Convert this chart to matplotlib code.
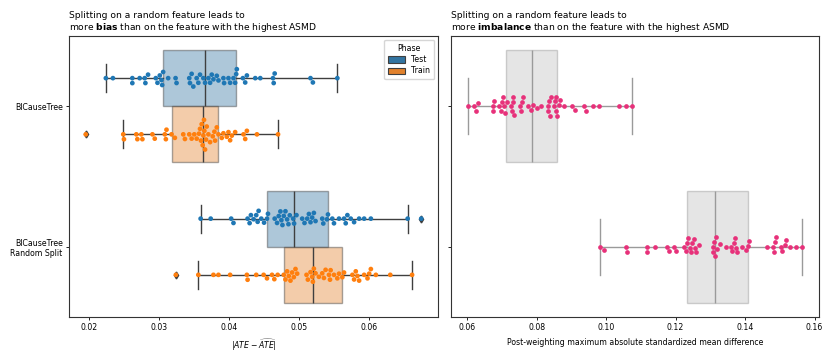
import numpy as np
import pandas as pd
import matplotlib
matplotlib.use('Agg')
import matplotlib.pyplot as plt
import seaborn as sns
from matplotlib.patches import Patch
from matplotlib.colors import to_rgba

methods = ['BICauseTree', 'BICauseTree\nRandom Split']
phases = ['Test', 'Train']

# |ATE - ATE_hat| per run
bias_bic_test = [0.02235, 0.02336, 0.02614, 0.02614, 0.02719, 0.02791, 0.02801, 0.02839, 0.02950, 0.02974,
                 0.03007, 0.03031, 0.03041, 0.03055, 0.03127, 0.03233, 0.03247, 0.03429, 0.03439, 0.03463,
                 0.03487, 0.03535, 0.03559, 0.03583, 0.03631, 0.03655, 0.03703, 0.03727, 0.03751, 0.03775,
                 0.03823, 0.03847, 0.03918, 0.03928, 0.03990, 0.04014, 0.04062, 0.04086, 0.04101, 0.04110,
                 0.04197, 0.04230, 0.04254, 0.04374, 0.04446, 0.04628, 0.04638, 0.04652, 0.05165, 0.05199,
                 0.05549]
bias_bic_train = [0.01947, 0.02484, 0.02494, 0.02671, 0.02686, 0.02743, 0.02758, 0.02902, 0.02935, 0.03079,
                  0.03094, 0.03103, 0.03175, 0.03223, 0.03343, 0.03367, 0.03429, 0.03463, 0.03501, 0.03535,
                  0.03568, 0.03583, 0.03597, 0.03607, 0.03621, 0.03631, 0.03640, 0.03645, 0.03655, 0.03669,
                  0.03679, 0.03703, 0.03727, 0.03765, 0.03789, 0.03799, 0.03823, 0.03847, 0.03894, 0.03918,
                  0.03966, 0.03990, 0.04014, 0.04038, 0.04086, 0.04206, 0.04230, 0.04254, 0.04398, 0.04700]
bias_rs_test = [0.03592, 0.03736, 0.04029, 0.04062, 0.04264, 0.04293, 0.04312, 0.04350, 0.04388, 0.04408,
                0.04422, 0.04460, 0.04500, 0.04542, 0.04556, 0.04652, 0.04686, 0.04710, 0.04734, 0.04748,
                0.04763, 0.04782, 0.04806, 0.04830, 0.04849, 0.04868, 0.04916, 0.04930, 0.04964, 0.05046,
                0.05079, 0.05118, 0.05142, 0.05165, 0.05189, 0.05213, 0.05237, 0.05333, 0.05348, 0.05400,
                0.05415, 0.05477, 0.05501, 0.05573, 0.05645, 0.05669, 0.05693, 0.05741, 0.05789, 0.05861,
                0.05933, 0.06029, 0.06556, 0.06750]
bias_rs_train = [0.03237, 0.03559, 0.03775, 0.03847, 0.04014, 0.04254, 0.04264, 0.04388, 0.04494, 0.04542,
                 0.04614, 0.04647, 0.04695, 0.04782, 0.04806, 0.04830, 0.04854, 0.04878, 0.04902, 0.04926,
                 0.04950, 0.04974, 0.05108, 0.05127, 0.05165, 0.05189, 0.05199, 0.05213, 0.05237, 0.05285,
                 0.05333, 0.05357, 0.05381, 0.05429, 0.05444, 0.05453, 0.05501, 0.05549, 0.05573, 0.05621,
                 0.05645, 0.05765, 0.05789, 0.05813, 0.05837, 0.05861, 0.05933, 0.05981, 0.06005, 0.06029,
                 0.06101, 0.06307, 0.06619]

# post-weighting max ASMD per run
asmd_bic = [0.06019, 0.06211, 0.06259, 0.06316, 0.06738, 0.06757, 0.06766, 0.06929, 0.06977, 0.07006,
            0.07044, 0.07073, 0.07100, 0.07150, 0.07264, 0.07293, 0.07312, 0.07331, 0.07360, 0.07533,
            0.07561, 0.07580, 0.07600, 0.07743, 0.07839, 0.07887, 0.08002, 0.08126, 0.08318, 0.08337,
            0.08356, 0.08375, 0.08404, 0.08510, 0.08529, 0.08548, 0.08567, 0.08600, 0.08640, 0.08672,
            0.08797, 0.09017, 0.09113, 0.09372, 0.09420, 0.09611, 0.09803, 0.10377, 0.10569, 0.10760]
asmd_rs = [0.09831, 0.09927, 0.10588, 0.10598, 0.11172, 0.11192, 0.11402, 0.11766, 0.11814, 0.11967,
           0.12025, 0.12245, 0.12293, 0.12341, 0.12370, 0.12408, 0.12446, 0.12485, 0.12533, 0.12561,
           0.12600, 0.12676, 0.13079, 0.13088, 0.13107, 0.13126, 0.13155, 0.13203, 0.13270, 0.13443,
           0.13586, 0.13634, 0.13682, 0.13711, 0.13749, 0.13778, 0.13922, 0.14020, 0.14080, 0.14113,
           0.14640, 0.14803, 0.14831, 0.14860, 0.14879, 0.15023, 0.15071, 0.15148, 0.15186, 0.15282,
           0.15454, 0.15646]

bias_groups = {(methods[0], 'Test'): bias_bic_test, (methods[0], 'Train'): bias_bic_train,
               (methods[1], 'Test'): bias_rs_test, (methods[1], 'Train'): bias_rs_train}
rows = [(m, p, v) for (m, p), vals in bias_groups.items() for v in vals]
df_bias = pd.DataFrame(rows, columns=['method', 'phase', 'value'])
rows = [(methods[0], v) for v in asmd_bic] + [(methods[1], v) for v in asmd_rs]
df_asmd = pd.DataFrame(rows, columns=['method', 'value'])

box_cols = {'Test': '#3274a1', 'Train': '#e1812c'}
dot_cols = {'Test': '#1f77b4', 'Train': '#ff7f0e'}
pink = '#e7317a'
fs = 5.6

def draw_box(ax, vals, pos, width, face, line, alpha):
    bp = ax.boxplot(vals, positions=[pos], widths=width, orientation='horizontal', patch_artist=True,
                    manage_ticks=False, whis=1.5,
                    flierprops=dict(marker='d', markersize=3.5, markerfacecolor=line, markeredgecolor=line),
                    medianprops=dict(color=line, linewidth=1.0),
                    whiskerprops=dict(color=line, linewidth=1.0),
                    capprops=dict(color=line, linewidth=1.0))
    for b in bp['boxes']:
        b.set_facecolor(to_rgba(face, alpha))
        b.set_edgecolor(to_rgba(line, 0.45))
        b.set_linewidth(1.0)
    for k in bp:
        for a in bp[k]:
            a.set_zorder(1)

fig = plt.figure(figsize=(8.3, 3.56), dpi=100)
ax1 = fig.add_axes([0.0831, 0.1096, 0.4446, 0.7893])
ax2 = fig.add_axes([0.5434, 0.1096, 0.4433, 0.7893])

# left: bias
for i, m in enumerate(methods):
    for j, p in enumerate(phases):
        draw_box(ax1, bias_groups[(m, p)], i - 0.2 + 0.4 * j, 0.4, box_cols[p], '#3f3f3f', 0.4)
sns.swarmplot(data=df_bias, x='value', y='method', hue='phase', order=methods, hue_order=phases,
              dodge=True, palette=dot_cols, size=3.4, ax=ax1, legend=False, zorder=3)
ax1.set_ylabel('')
ax1.set_xlabel(r'$|ATE - \widehat{ATE}|$', fontsize=fs)
ax1.set_title('Splitting on a random feature leads to\nmore $\\bf{bias}$ than on the feature with the highest ASMD',
              loc='left', fontsize=6.6, pad=4)
handles = [Patch(facecolor=box_cols[p], edgecolor='#3f3f3f', linewidth=0.8, label=p) for p in phases]
ax1.legend(handles=handles, title='Phase', loc='upper right', fontsize=fs, title_fontsize=fs,
           handlelength=2.2, handleheight=0.9, borderpad=0.5, labelspacing=0.3)

# right: imbalance
for i, m in enumerate(methods):
    draw_box(ax2, [asmd_bic, asmd_rs][i], i, 0.8, '#e5e5e5', '#9a9a9a', 1.0)
sns.swarmplot(data=df_asmd, x='value', y='method', order=methods, color=pink, size=3.4, ax=ax2, zorder=3)
ax2.set_ylabel('')
ax2.set_yticklabels([])
ax2.set_xlabel('Post-weighting maximum absolute standardized mean difference', fontsize=fs)
ax2.set_title('Splitting on a random feature leads to\nmore $\\bf{imbalance}$ than on the feature with the highest ASMD',
              loc='left', fontsize=6.6, pad=4)

for ax in (ax1, ax2):
    ax.set_ylim(1.5, -0.5)
    ax.tick_params(labelsize=fs, length=2.5, width=0.6, pad=2)
    for s in ax.spines.values():
        s.set_linewidth(0.8)
        s.set_color('#333333')

fig.savefig('out.png', dpi=100)
